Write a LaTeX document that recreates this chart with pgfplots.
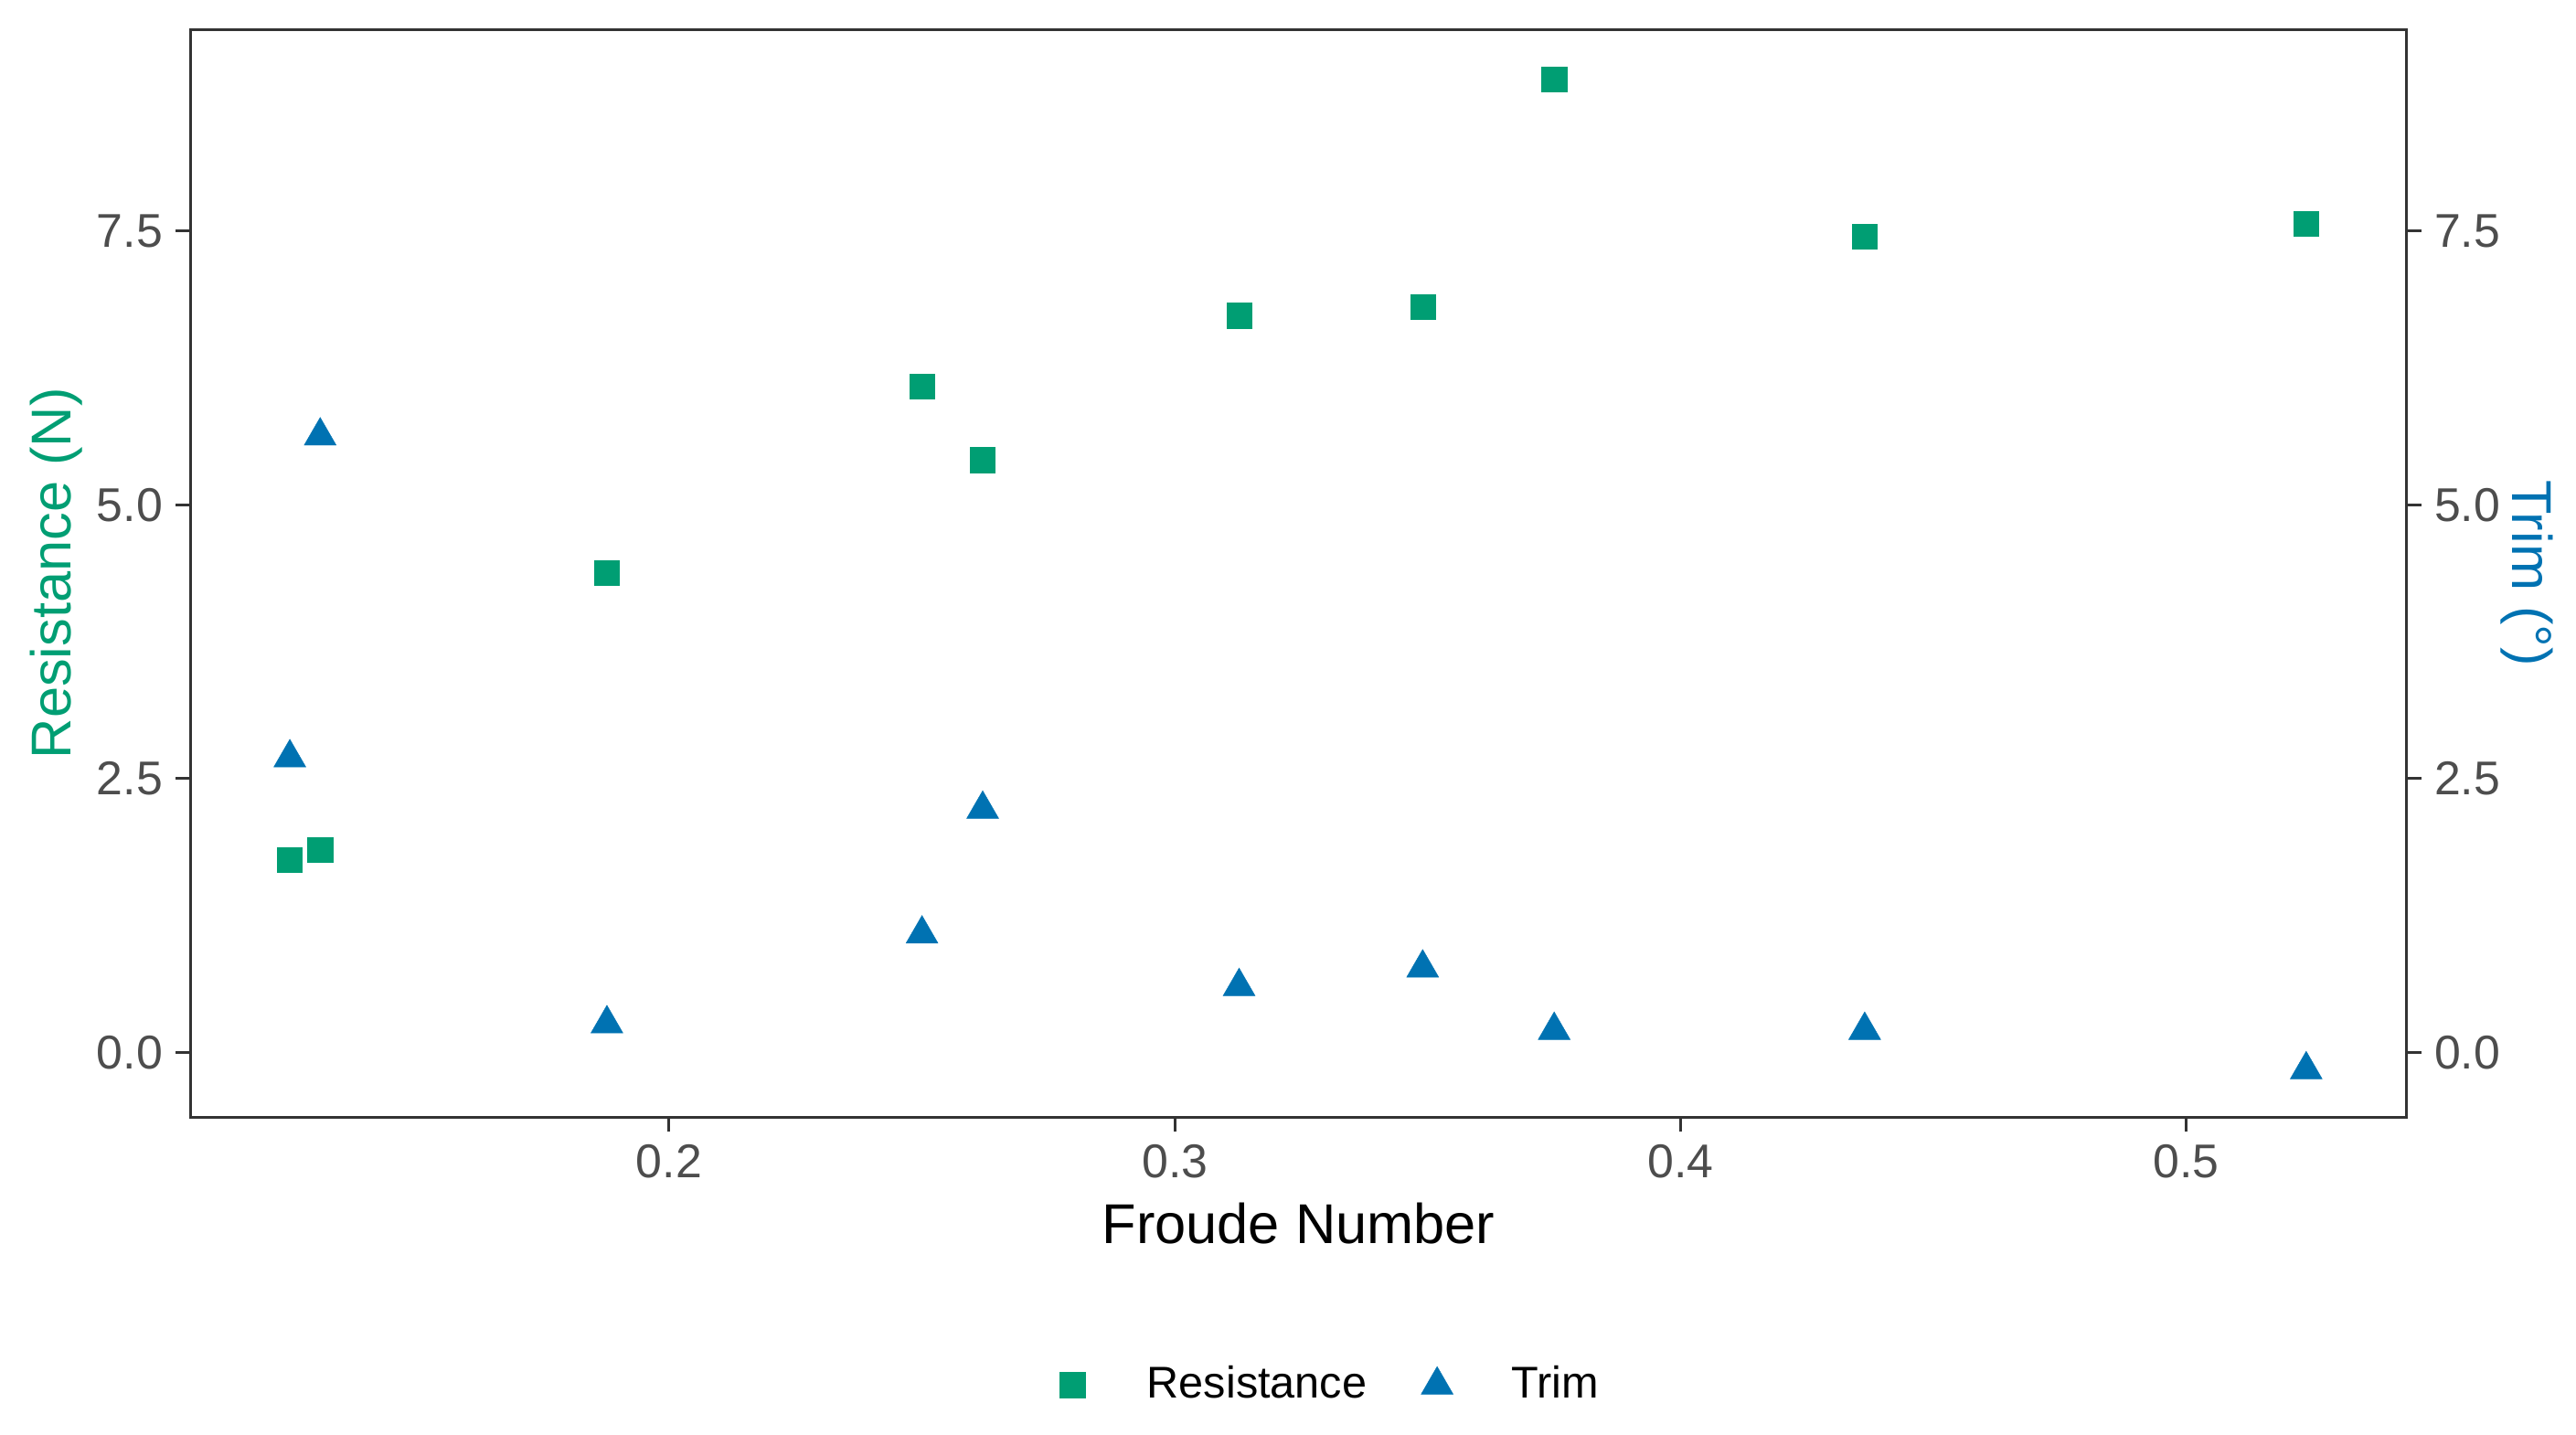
\documentclass[border=0pt]{standalone}
\usepackage{pgfplots}
\pgfplotsset{compat=1.18}
\usepackage{fontspec}
\setmainfont{Liberation Sans}
\definecolor{cgreen}{HTML}{009E73}
\definecolor{cblue}{HTML}{0072B2}
\definecolor{axgray}{HTML}{333333}
\definecolor{tickgray}{HTML}{4D4D4D}

\pgfplotstableread{
x y
0.125 1.76
0.131 1.85
0.1877 4.38
0.250 6.08
0.262 5.41
0.3127 6.73
0.349 6.81
0.375 8.89
0.4364 7.45
0.5237 7.57
}\resistance

\pgfplotstableread{
x y
0.125 2.69
0.131 5.63
0.1877 0.26
0.250 1.08
0.262 2.22
0.3127 0.60
0.349 0.77
0.375 0.20
0.4364 0.20
0.5237 -0.16
}\trim

\begin{document}
\begin{tikzpicture}
\pgfplotsset{
  common/.style={
    scale only axis, width=606bp, height=297.5bp,
    xmin=0.1053, xmax=0.5436, ymin=-0.595, ymax=9.345,
    axis line style={axgray, line width=0.75bp},
    every tick/.style={axgray, line width=0.75bp},
    tick align=outside, major tick length=4bp,
    ytick={0,2.5,5,7.5},
    yticklabels={0.0,2.5,5.0,7.5},
    xtick={0.2,0.3,0.4,0.5},
    xticklabels={0.2,0.3,0.4,0.5},
    ticklabel style={font=\fontsize{13}{15}\selectfont, text=tickgray},
    /pgf/number format/assume math mode=true,
  }
}
\begin{axis}[common,
  xtick pos=bottom, ytick pos=left,
  ylabel={Resistance (N)},
  ylabel style={at={(axis description cs:-0.0605,0.5)}, anchor=center, font=\fontsize{15.4}{18}\selectfont, text=cgreen},
  xlabel={Froude Number},
  xlabel style={at={(axis description cs:0.5,-0.116)}, anchor=base, font=\fontsize{15.4}{18}\selectfont, text=black},
  legend style={at={(axis description cs:0.510,-0.246)}, anchor=center, draw=none, fill=none,
    legend columns=2, font=\fontsize{12.2}{14}\selectfont, nodes={inner sep=0pt},
    /tikz/every even column/.append style={column sep=11bp},
    /tikz/every odd column/.append style={column sep=12.2bp}},
  legend image code/.code={\path (0bp,-4.5bp) (16bp,4.5bp); \draw[#1] plot coordinates {(8bp,0bp)};},
]
\addplot[only marks, color=cgreen, mark=square*, mark size=3.4bp, mark options={line width=0.1bp, fill=cgreen, draw=cgreen}] table[x=x,y=y] {\resistance};
\addlegendentry{Resistance}
\addplot[only marks, color=cblue, mark=triangle*, mark size=5.05bp, mark options={line width=0.1bp, fill=cblue, draw=cblue}] table[x=x,y=y] {\trim};
\addlegendentry{Trim}
\coordinate (sw) at (rel axis cs:0,0);
\coordinate (ne) at (rel axis cs:1,1);
\end{axis}
\begin{axis}[common,
  hide x axis, axis y line*=right,
  ytick pos=right, yticklabel pos=right,
  ylabel={Trim (°)},
  ylabel style={at={(axis description cs:1.0540,0.5)}, anchor=center, rotate=-180, font=\fontsize{15.4}{18}\selectfont, text=cblue},
]
\addplot[draw=none, forget plot] coordinates {(0.2,0)};
\end{axis}
\path[use as bounding box] ([shift={(-52bp,-86.75bp)}]sw) rectangle ([shift={(46.25bp,8bp)}]ne);
\end{tikzpicture}
\end{document}
